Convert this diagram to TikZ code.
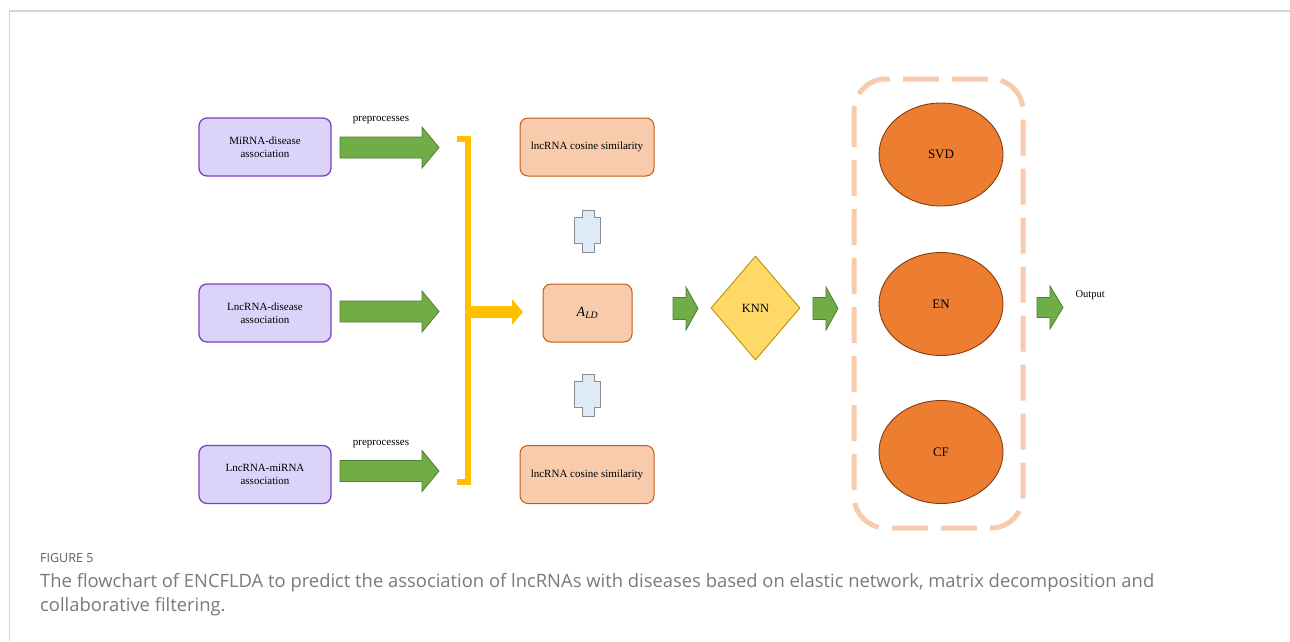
\documentclass[tikz,border=0pt]{standalone}
\usepackage{fontspec}
\setmainfont{Liberation Serif}
\newfontfamily\capfont{Open Sans}
\usetikzlibrary{shapes.geometric}

\definecolor{lavfill}{HTML}{DCD3FB}
\definecolor{lavline}{HTML}{7F3FBF}
\definecolor{peach}{HTML}{F8CBAD}
\definecolor{peachline}{HTML}{C55A11}
\definecolor{grfill}{HTML}{70AD47}
\definecolor{grline}{HTML}{507E32}
\definecolor{gold}{HTML}{FFC000}
\definecolor{knnfill}{HTML}{FFD966}
\definecolor{knnline}{HTML}{BF9000}
\definecolor{orfill}{HTML}{ED7D31}
\definecolor{orline}{HTML}{843C0C}
\definecolor{crossfill}{HTML}{DEEBF7}
\definecolor{crossline}{HTML}{8C8C8C}
\definecolor{framegray}{HTML}{D4D4D4}
\definecolor{captext}{HTML}{7A7A7A}
\definecolor{caphead}{HTML}{5E5E5E}

% horizontal block arrow: style, tail x, head start x, tip x, centre y, shaft half, head half
\newcommand{\blockarr}[7]{%
  \draw[#1] (#2,#5-#6) -- (#3,#5-#6) -- (#3,#5-#7) -- (#4,#5) -- (#3,#5+#7)
    -- (#3,#5+#6) -- (#2,#5+#6) -- cycle;}
% vertical double-notched connector shape centred at (x,y)
\newcommand{\notchshape}[2]{%
  \draw[crossbox] (#1-5.5,#2-21) -- (#1+6.5,#2-21) -- (#1+6.5,#2-14) -- (#1+13,#2-14)
    -- (#1+13,#2+12) -- (#1+6.5,#2+12) -- (#1+6.5,#2+21) -- (#1-5.5,#2+21)
    -- (#1-5.5,#2+12) -- (#1-13,#2+12) -- (#1-13,#2-14) -- (#1-5.5,#2-14) -- cycle;}

\tikzset{
  srcbox/.style={draw=lavline, fill=lavfill, line width=1.3pt, rounded corners=8pt,
    minimum width=132pt, minimum height=58pt, align=center, font=\fontsize{11}{13}\selectfont},
  simbox/.style={draw=peachline, fill=peach, line width=1pt, rounded corners=8pt,
    minimum width=134pt, minimum height=58pt, align=center, font=\fontsize{11}{13}\selectfont},
  greenarr/.style={fill=grfill, draw=grline, line width=0.8pt},
  goldarr/.style={fill=gold, draw=none},
  crossbox/.style={fill=crossfill, draw=crossline, line width=1pt},
  model/.style={ellipse, draw=orline, fill=orfill, line width=0.9pt,
    minimum width=124pt, minimum height=103pt, font=\fontsize{13}{15}\selectfont},
  lbl/.style={font=\fontsize{11}{13}\selectfont},
  captionline/.style={anchor=west, inner sep=0pt, text=captext,
    font=\capfont\fontsize{18.4}{22}\selectfont},
}

\begin{document}
\begin{tikzpicture}[x=1pt, y=-1pt]
\useasboundingbox (0,0) rectangle (1290,641);
\fill[white] (0,0) rectangle (1290,641);

% page frame
\draw[framegray, line width=2pt] (9,11) -- (1290,11);
\draw[framegray, line width=1pt] (9,11) -- (9,641);

% input associations
\node[srcbox] (mir) at (265,147) {MiRNA-disease\\association};
\node[srcbox] (lnd) at (265,313) {LncRNA-disease\\association};
\node[srcbox] (lnm) at (265,474.5) {LncRNA-miRNA\\association};

% preprocessing arrows
\blockarr{greenarr}{340}{422}{439}{147.5}{10.5}{20.5}
\blockarr{greenarr}{340}{422}{439}{311.5}{10.5}{20.5}
\blockarr{greenarr}{340}{422}{439}{471}{10.5}{20.5}
\node[lbl] (pre1) at (381,120) {preprocesses};
\node[lbl] (pre2) at (381,444) {preprocesses};

% merging bracket
\draw[gold, line width=6pt] (457,139) -- (468,139) -- (468,482) -- (457,482);
\blockarr{goldarr}{468}{512}{523}{312}{6}{13}

% similarity matrices and association matrix
\node[simbox] (simt) at (587,147) {lncRNA cosine similarity};
\node[simbox] (simb) at (587,474.5) {lncRNA cosine similarity};
\node[simbox, minimum width=89pt] (ald) at (587.5,313)
  {\fontsize{14}{16}\selectfont\textit{A}\textsubscript{\textit{LD}}};
\notchshape{587.5}{231}
\notchshape{587.5}{395}

% KNN
\blockarr{greenarr}{673}{686}{698}{308.5}{11}{21.5}
\node[diamond, draw=knnline, fill=knnfill, line width=0.9pt, minimum width=89pt,
  minimum height=104pt, inner sep=0pt, font=\fontsize{12.5}{14}\selectfont]
  (knn) at (755.5,308) {KNN};
\blockarr{greenarr}{813}{826}{838}{308.5}{11}{21.5}

% ensemble of models
\draw[peach, line width=5pt, dash pattern=on 36pt off 13pt, rounded corners=32pt]
  (854,79) rectangle (1023,528);
\node[model] (svd) at (941,154.5) {SVD};
\node[model] (en)  at (941,304) {EN};
\node[model] (cf)  at (941,452) {CF};

% output
\blockarr{greenarr}{1037}{1050}{1063}{307.5}{10}{21.5}
\node[lbl, anchor=west, font=\fontsize{10.5}{12}\selectfont] (out) at (1072,295) {Output};

% caption
\node[anchor=west, inner sep=0pt, text=caphead, font=\capfont\fontsize{12.5}{14}\selectfont]
  (fig) at (40,558) {FIGURE 5};
\node[captionline] (cap1) at (40,582.5)
  {The flowchart of ENCFLDA to predict the association of lncRNAs with diseases based on elastic network, matrix decomposition and};
\node[captionline] (cap2) at (40,607) {collaborative filtering.};
\end{tikzpicture}
\end{document}
